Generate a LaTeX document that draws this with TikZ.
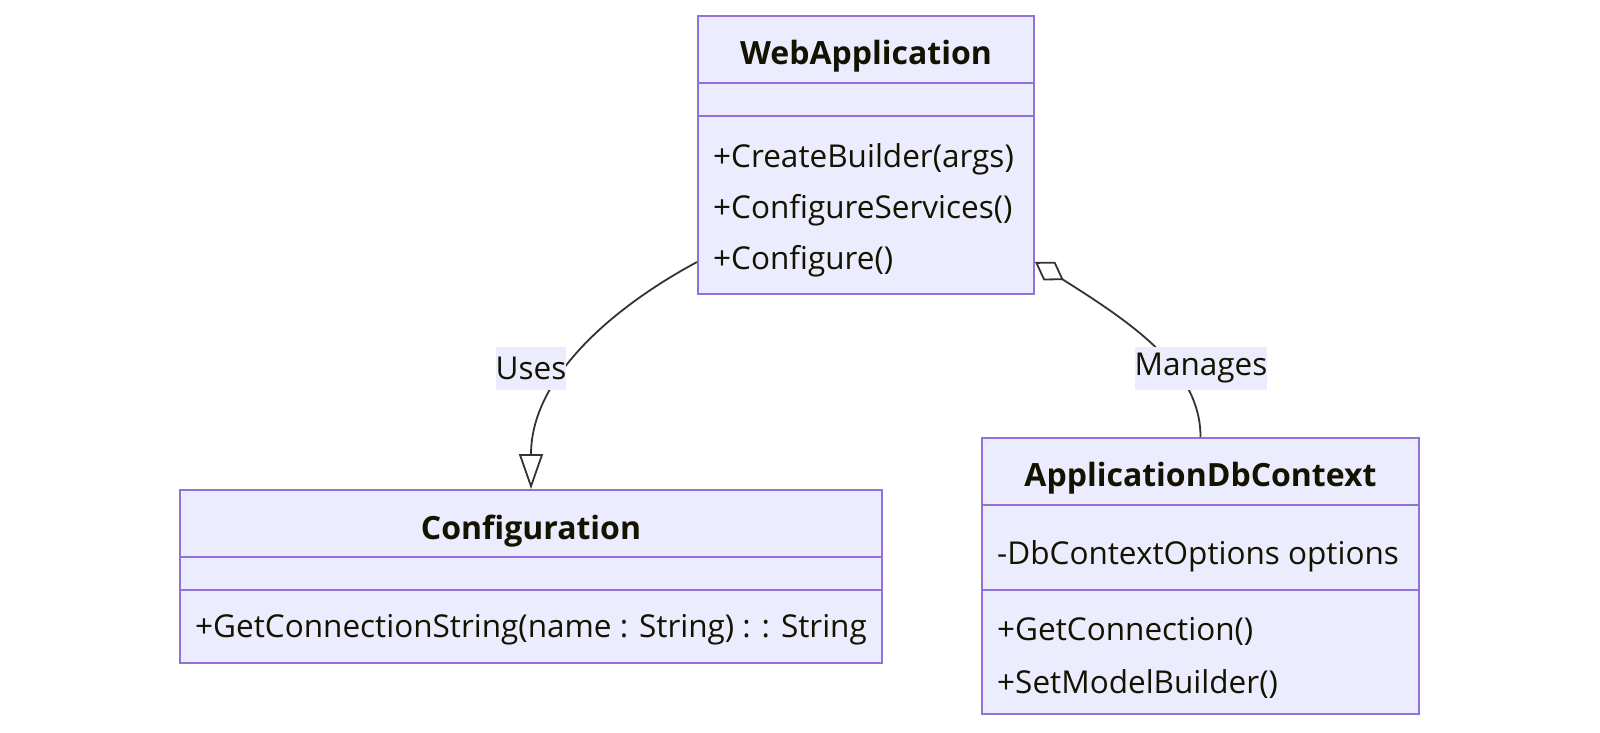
\documentclass[tikz,border=0pt]{standalone}
\usepackage{fontspec}
\setmainfont{Open Sans}
\usetikzlibrary{arrows.meta}
\definecolor{umlfill}{HTML}{ECECFF}
\definecolor{umlline}{HTML}{9370DB}
\definecolor{umltext}{HTML}{131300}
\definecolor{edgeline}{HTML}{333333}

\begin{document}
\begin{tikzpicture}[x=1pt, y=-1pt,
  cls/.style={rectangle, draw=umlline, fill=umlfill, line width=2pt, inner sep=0pt},
  title/.style={font=\fontsize{32}{38}\selectfont\bfseries, text=umltext, inner sep=0pt},
  member/.style={anchor=west, font=\fontsize{31.5}{38}\selectfont, text=umltext, inner sep=0pt},
  sep/.style={draw=umlline, line width=2pt},
  lbl/.style={fill=umlfill, font=\fontsize{31.5}{38}\selectfont, text=umltext,
              inner xsep=0pt, inner ysep=0pt, minimum height=43pt},
  arr/.style={line width=1.8pt, draw=edgeline},
]
  \useasboundingbox (0,0) rectangle (1600,732);

  \node[cls, minimum width=336pt, minimum height=278pt] (web) at (866,155) {};
  \draw[sep] (web.west |- 0,83) -- (web.east |- 0,83);
  \draw[sep] (web.west |- 0,116) -- (web.east |- 0,116);
  \node[title] (wt) at (866,56) {WebApplication};
  \node[member] (w1) at (713,159) {+CreateBuilder(args)};
  \node[member] (w2) at (713,210) {+ConfigureServices()};
  \node[member] (w3) at (713,261) {+Configure()};

  \node[cls, minimum width=702pt, minimum height=173pt] (conf) at (531,576.5) {};
  \draw[sep] (conf.west |- 0,557) -- (conf.east |- 0,557);
  \draw[sep] (conf.west |- 0,590) -- (conf.east |- 0,590);
  \node[title] (ct) at (531,531) {Configuration};
  \node[member] (c1) at (195,630) {+GetConnectionString(name : String) : : String};

  \node[cls, minimum width=437pt, minimum height=276pt] (ctx) at (1200.5,576) {};
  \draw[sep] (ctx.west |- 0,505) -- (ctx.east |- 0,505);
  \draw[sep] (ctx.west |- 0,590) -- (ctx.east |- 0,590);
  \node[title] (dt) at (1200.5,478) {ApplicationDbContext};
  \node[member] (d1) at (997,556) {-DbContextOptions options};
  \node[member] (d2) at (997,631) {+GetConnection()};
  \node[member] (d3) at (997,684) {+SetModelBuilder()};

  \coordinate (uses0) at (web.west |- 0,262);
  \coordinate (mgr0) at (web.east |- 0,262);

  \draw[arr, -{Triangle[open, length=35pt, width=24pt, line width=1.8pt]}]
    (uses0) .. controls (608,310) and (531,380) .. (conf.north);
  \draw[arr, {Diamond[open, length=34pt, width=22pt, line width=1.8pt]}-]
    (mgr0) .. controls (1135,325) and (1200.5,370) .. (ctx.north);

  \node[lbl] (uses) at (531,368) {Uses};
  \node[lbl] (mgr) at (1201,368) {Manages};
\end{tikzpicture}
\end{document}
